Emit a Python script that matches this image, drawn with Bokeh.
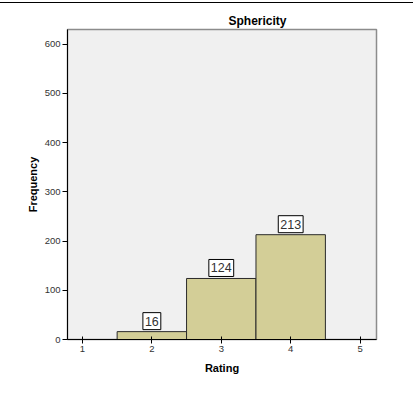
from bokeh.plotting import figure
from bokeh.models import Label, Range1d, FixedTicker, Div
from bokeh.layouts import column
from bokeh.embed import file_html
from bokeh.resources import INLINE

ratings = [2, 3, 4]
counts = [16, 124, 213]
x_ticks = [1, 2, 3, 4, 5]
y_ticks = [0, 100, 200, 300, 400, 500, 600]
title_text = "Sphericity"
x_label = "Rating"
y_label = "Frequency"

FONT = "Liberation Sans"
TOP = 5

p = figure(width=405, height=405 - TOP, output_backend="svg", toolbar_location=None,
           x_range=Range1d(0.785, 5.236), y_range=Range1d(0, 630),
           min_border_left=67, min_border_right=29, min_border_top=29 - TOP, min_border_bottom=66)
p.background_fill_color = "#f0f0f0"
p.border_fill_color = "white"
p.outline_line_color = "#8c8c8c"
p.outline_line_width = 1.5
p.grid.visible = False

p.title.text = title_text
p.title.text_font = FONT
p.title.text_font_size = "12px"
p.title.text_font_style = "bold"
p.title.text_color = "black"
p.title.align = "left"
p.title.offset = 161
p.title.standoff = 3

p.quad(left=[r - 0.5 for r in ratings], right=[r + 0.5 for r in ratings],
       bottom=0, top=counts, fill_color="#d3ce97", line_color="#2a2a2a", line_width=1)

for r, c in zip(ratings, counts):
    p.add_layout(Label(x=r, y=c, text=str(c), text_align="center", text_baseline="bottom",
                       y_offset=2, text_font=FONT, text_font_size="12.5px", text_color="#333333",
                       background_fill_color="white", border_line_color="black",
                       border_line_width=1, padding=(2, 4)))

for ax in (p.xaxis[0], p.yaxis[0]):
    ax.axis_line_color = "black"
    ax.axis_line_width = 1
    ax.major_tick_line_color = "black"
    ax.minor_tick_line_color = None
    ax.major_label_text_font = FONT
    ax.major_label_text_font_size = "9.5px"
    ax.major_label_text_color = "#333333"
    ax.axis_label_text_font = FONT
    ax.axis_label_text_font_size = "11px"
    ax.axis_label_text_font_style = "bold"
    ax.axis_label_text_color = "black"

p.xaxis.ticker = FixedTicker(ticks=x_ticks)
p.yaxis.ticker = FixedTicker(ticks=y_ticks)
p.xaxis.major_tick_in = 3
p.xaxis.major_tick_out = 4
p.yaxis.major_tick_in = 0
p.yaxis.major_tick_out = 5
p.xaxis.major_label_standoff = 2
p.yaxis.major_label_standoff = 2
p.xaxis.axis_label = x_label
p.yaxis.axis_label = y_label
p.xaxis.axis_label_standoff = 7
p.yaxis.axis_label_standoff = 3

rule = Div(width=413, height=1, margin=(2, 0, 2, 0), text="",
           styles={"background-color": "black"})
p.margin = 0
layout = column(rule, p, spacing=0)

open("out.html", "w").write(file_html(layout, INLINE))
